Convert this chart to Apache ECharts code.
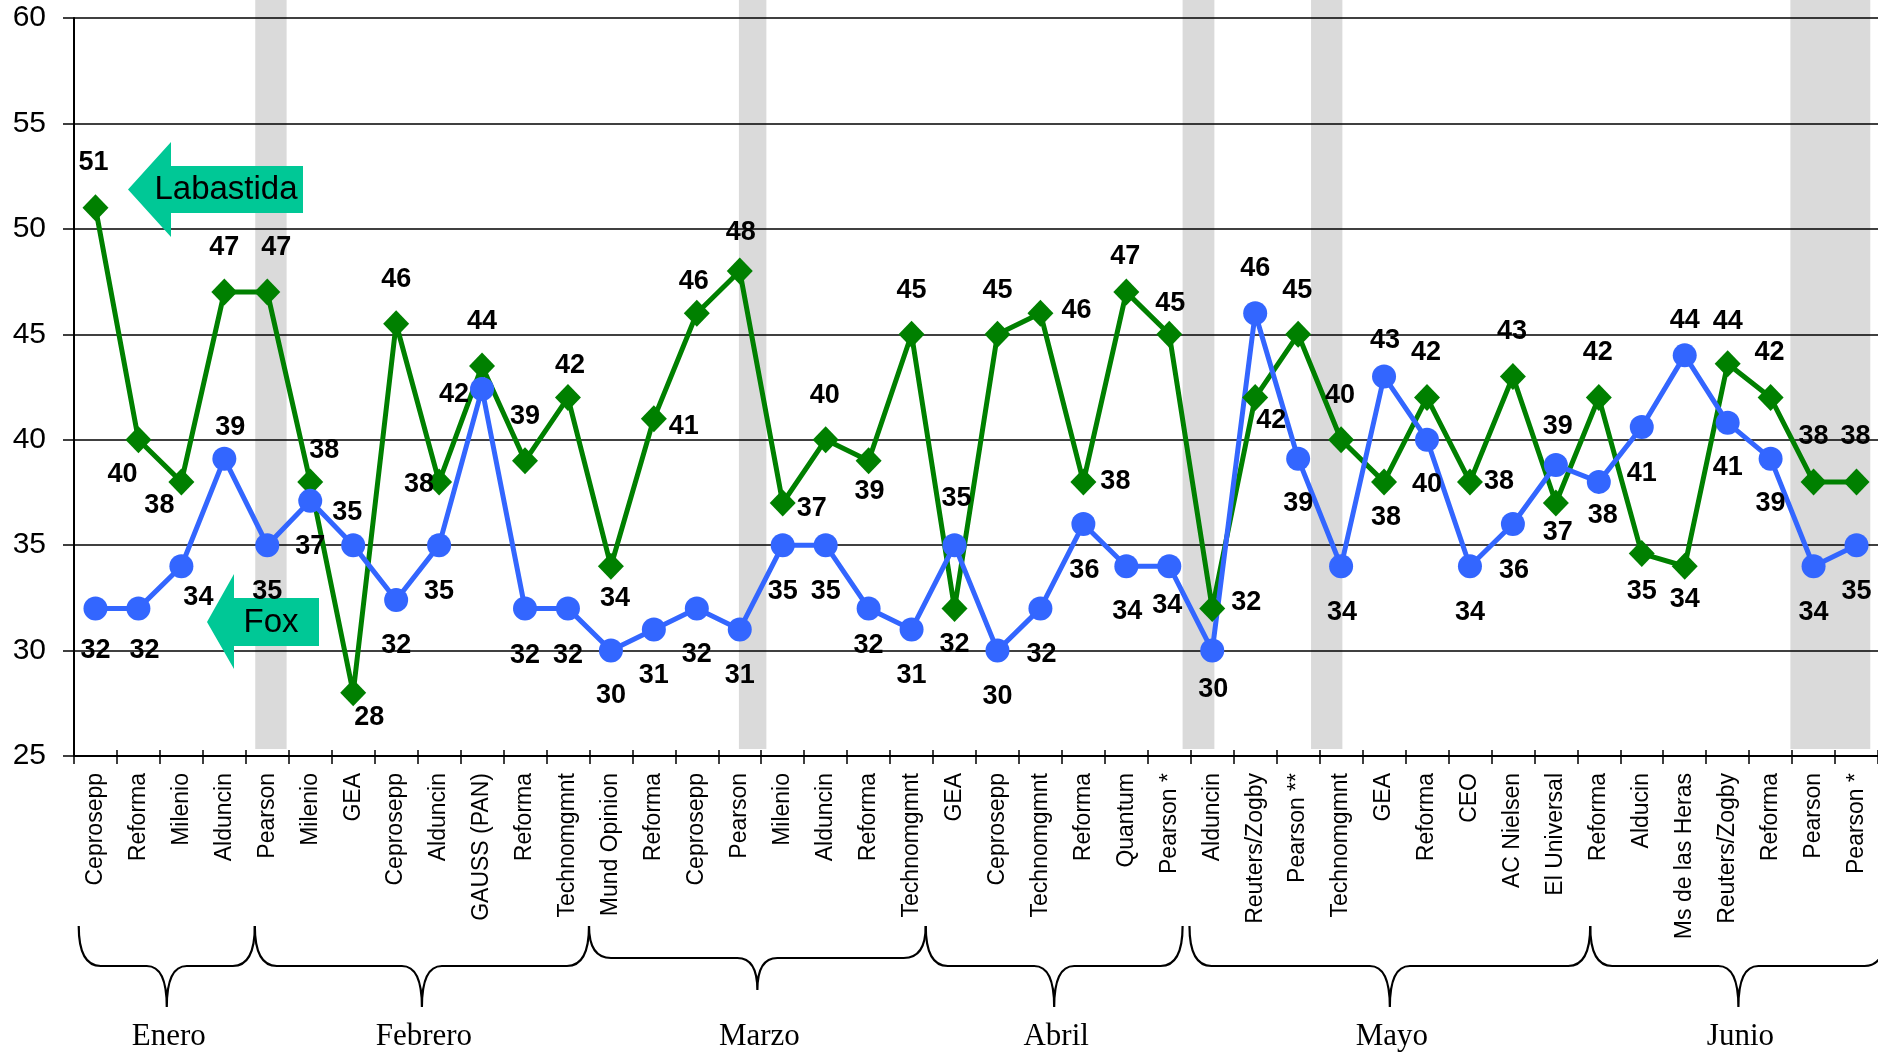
<!DOCTYPE html>
<html>
<head>
<meta charset="utf-8">
<script src="https://cdn.jsdelivr.net/npm/echarts@6/dist/echarts.min.js"></script>
<style>
  html, body { margin: 0; padding: 0; background: #fff; }
  #chart { width: 1878px; height: 1053px; }
</style>
</head>
<body>
<div id="chart"></div>
<script>
// ---------------- DATA ----------------
const categories = ['Ceprosepp','Reforma','Milenio','Alduncin','Pearson','Milenio','GEA','Ceprosepp','Alduncin','GAUSS (PAN)','Reforma','Technomgmnt','Mund Opinion','Reforma','Ceprosepp','Pearson','Milenio','Alduncin','Reforma','Technomgmnt','GEA','Ceprosepp','Technomgmnt','Reforma','Quantum','Pearson *','Alduncin','Reuters/Zogby','Pearson **','Technomgmnt','GEA','Reforma','CEO','AC Nielsen','El Universal','Reforma','Alducin','Ms de las Heras','Reuters/Zogby','Reforma','Pearson','Pearson *'];

const labastida = [51,40,38,47,47,38,28,45.5,38,43.5,39,42,34,41,46,48,37,40,39,45,32,45,46,38,47,45,32,42,45,40,38,42,38,43,37,42,34.6,34,43.6,42,38,38];

const fox = [32,32,34,39.1,35,37.1,35,32.4,35,42.4,32,32,30,31,32,31,35,35,32,31,35,30,32,36,34,34,30,46,39.1,34,43,40,34,36,38.8,38,40.6,44,40.8,39.1,34,35];

const months = ['Enero','Febrero','Marzo','Abril','Mayo','Junio'];
// month spans in category units (0 = left edge of first category)
const monthSpans = [[0.11,4.21],[4.21,11.99],[11.99,19.83],[19.83,25.81],[25.97,35.3],[35.3,42.2]];
// shaded columns in category units
const shadedSpans = [[4.22,4.95],[15.48,16.12],[25.81,26.55],[28.80,29.53],[39.96,41.82]];

const yMin = 25, yMax = 60, yStep = 5;

// ---------------- STYLE / LAYOUT ----------------
const labLabelOffsets = [[-2,-45],[-16,35],[-22,24],[0,-45],[9,-45],[14,-31],[16,25],[0,-44],[-20,3],[0,-44],
  [0,-44],[2,-32],[4,32],[30,8],[-3,-32],[1,-38],[29,6],[-1,-44],[1,31],[0,-44],
  [0,36],[0,-44],[36,-3],[32,0],[-1,-36],[1,-31],[34,-6],[16,23],[-1,-44],[-1,-44],
  [2,36],[-1,-45],[29,0],[-1,-45],[2,30],[-1,-45],[0,38],[0,33],[0,-42],[-1,-45],[0,-45],[-1,-45]];
const foxLabelOffsets = [[0,42],[6,42],[17,31],[6,-31],[0,46],[0,46],[-6,-33],[0,46],[0,46],[-28,5],
  [0,47],[0,47],[0,45],[0,46],[0,46],[0,46],[0,46],[0,46],[0,37],[0,46],
  [2,-47],[0,46],[1,46],[1,46],[1,45],[-2,39],[1,39],[0,-45],[0,45],[1,46],
  [1,-36],[0,45],[0,46],[1,46],[2,-38],[4,34],[0,46],[0,-35],[0,45],[0,45],[0,46],[0,46]];
const braceDepth = [0,0,1,0,0,0]; // 1 = shallower brace
const GREEN = '#008000', BLUE = '#3366ff', TEAL = '#00c896', SHADE = '#dadada';
const SANS = '"Liberation Sans", Arial, sans-serif';
const SERIF = '"Liberation Serif", "Times New Roman", serif';

const chart = echarts.init(document.getElementById('chart'), null, {renderer: 'canvas'});

function bracePath(xL, xR, yTop, yH, yTip) {
  const xM = (xL + xR) / 2, r = 22, rc = 20;
  return 'M' + xL + ',' + yTop +
    ' Q' + xL + ',' + yH + ' ' + (xL + r) + ',' + yH +
    ' L' + (xM - rc) + ',' + yH +
    ' Q' + xM + ',' + yH + ' ' + xM + ',' + yTip +
    ' Q' + xM + ',' + yH + ' ' + (xM + rc) + ',' + yH +
    ' L' + (xR - r) + ',' + yH +
    ' Q' + xR + ',' + yH + ' ' + xR + ',' + yTop;
}

const labelBase = {
  show: true, position: 'inside', color: '#000', fontSize: 27, fontWeight: 'bold',
  fontFamily: SANS, formatter: p => String(Math.round(p.value))
};

const option = {
  animation: false,
  backgroundColor: '#fff',
  grid: [
    {left: 74, top: 18, width: 1805, height: 738},
    {left: 74, top: 0, width: 1805, height: 749}
  ],
  xAxis: [
    {type: 'category', gridIndex: 0, data: categories, boundaryGap: true,
     axisLine: {show: true, lineStyle: {color: '#000', width: 2}},
     axisTick: {show: true, interval: 0, length: 8, lineStyle: {color: '#000', width: 1.5}},
     axisLabel: {interval: 0, rotate: 90, margin: 17, fontSize: 23, fontFamily: SANS, color: '#000'},
     splitLine: {show: false}},
    {type: 'category', gridIndex: 0, position: 'bottom', data: categories, boundaryGap: true,
     axisLine: {show: false},
     axisTick: {show: true, inside: true, interval: 0, length: 6, lineStyle: {color: '#000', width: 1.5}},
     axisLabel: {show: false}, splitLine: {show: false}},
    {type: 'value', gridIndex: 1, min: 0, max: categories.length, show: false}
  ],
  yAxis: [
    {type: 'value', gridIndex: 0, min: yMin, max: yMax, interval: yStep,
     axisLine: {show: true, lineStyle: {color: '#000', width: 2}},
     axisTick: {show: true, length: 11, lineStyle: {color: '#000', width: 1.5}},
     axisLabel: {margin: 28, fontSize: 30, fontFamily: SANS, color: '#000'},
     splitLine: {show: true, lineStyle: {color: '#000', width: 1.5}}},
    {type: 'value', gridIndex: 1, min: 0, max: 1, show: false}
  ],
  graphic: {elements: [
    {type: 'polygon', z: 1, shape: {points: [[128,189.5],[171,142],[171,166],[303,166],[303,213],[171,213],[171,237]]}, style: {fill: TEAL}},
    {type: 'text', z: 1, x: 226, y: 190, style: {text: 'Labastida', font: '33px ' + SANS, fill: '#000', align: 'center', verticalAlign: 'middle', textAlign: 'center', textVerticalAlign: 'middle'}},
    {type: 'polygon', z: 1, shape: {points: [[207,622],[234,574],[234,598],[319,598],[319,646],[234,646],[234,669]]}, style: {fill: TEAL}},
    {type: 'text', z: 1, x: 271, y: 623, style: {text: 'Fox', font: '33px ' + SANS, fill: '#000', align: 'center', verticalAlign: 'middle', textAlign: 'center', textVerticalAlign: 'middle'}}
  ]},
  series: [
    {type: 'custom', name: 'shade', xAxisIndex: 2, yAxisIndex: 1, z: -10, silent: true,
     data: shadedSpans,
     renderItem: function (params, api) {
       const p0 = api.coord([api.value(0), 1]);
       const p1 = api.coord([api.value(1), 0]);
       return {type: 'rect', shape: {x: p0[0], y: p0[1], width: p1[0] - p0[0], height: p1[1] - p0[1]}, style: {fill: SHADE}};
     }},
    {type: 'custom', name: 'months', xAxisIndex: 2, yAxisIndex: 1, silent: true, clip: false,
     data: monthSpans,
     renderItem: function (params, api) {
       const i = params.dataIndex;
       const xL = api.coord([api.value(0), 0])[0];
       const xR = api.coord([api.value(1), 0])[0];
       const shallow = braceDepth[i] === 1;
       const yTop = 926, yH = shallow ? 958 : 966, yTip = shallow ? 990 : 1007;
       return {type: 'group', children: [
         {type: 'path', shape: {pathData: bracePath(xL, xR, yTop, yH, yTip)}, style: {fill: 'none', stroke: '#000', lineWidth: 2.2}},
         {type: 'text', x: (xL + xR) / 2 + 2, y: 1037, style: {text: months[i], font: '31px ' + SERIF, fill: '#000', align: 'center', verticalAlign: 'middle'}}
       ]};
     }},
    {type: 'line', name: 'Labastida', xAxisIndex: 0, yAxisIndex: 0,
     data: labastida.map((v, i) => ({value: v, label: {offset: labLabelOffsets[i]}})),
     symbol: 'diamond', symbolSize: [26, 27], showAllSymbol: true,
     lineStyle: {color: GREEN, width: 5}, itemStyle: {color: GREEN},
     label: labelBase, emphasis: {disabled: true}},
    {type: 'line', name: 'Fox', xAxisIndex: 0, yAxisIndex: 0,
     data: fox.map((v, i) => ({value: v, label: {offset: foxLabelOffsets[i]}})),
     symbol: 'circle', symbolSize: 24, showAllSymbol: true,
     lineStyle: {color: BLUE, width: 5}, itemStyle: {color: BLUE},
     label: labelBase, emphasis: {disabled: true}}
  ]
};
chart.setOption(option);
</script>
</body>
</html>
